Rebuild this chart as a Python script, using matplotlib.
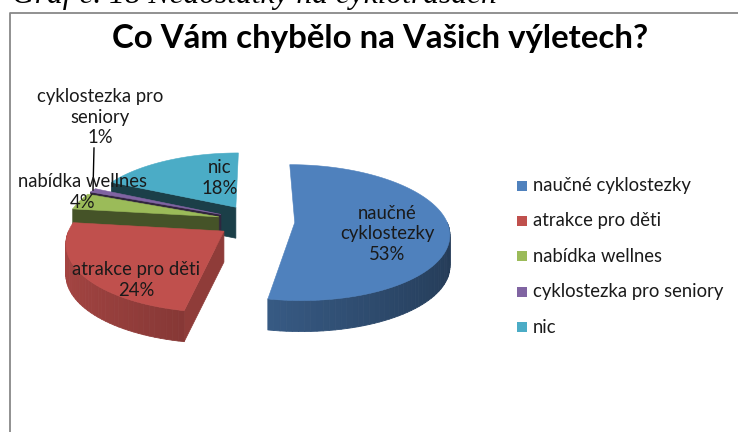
import numpy as np
import matplotlib
matplotlib.use("Agg")
import matplotlib.pyplot as plt
from matplotlib.patches import Polygon, Rectangle
from matplotlib.collections import PolyCollection
from matplotlib.lines import Line2D
from matplotlib import colors as mcolors

# ---------------- data ----------------
categories = ["naučné cyklostezky", "atrakce pro děti", "nabídka wellnes",
              "cyklostezka pro seniory", "nic"]
values = [53, 24, 4, 1, 18]
label_names = ["naučné\ncyklostezky", "atrakce pro děti", "nabídka wellnes",
               "cyklostezka pro\nseniory", "nic"]
title_text = "Co Vám chybělo na Vašich výletech?"
caption_text = "Graf č. 18 Nedostatky na cyklotrasách"

# ---------------- style / layout ----------------
colors = ["#4f81bd", "#c0504d", "#9bbb59", "#8064a2", "#4bacc6"]
FONT = "Lato"
W, H = 738, 432
CX, CY = 256, 221          # pie centre (px)
A, B = 152, 66             # ellipse radii (px)
P = 0.147                  # perspective
DEPTH = 31                 # side height (px)
EXPLODE = 0.255
label_pos = [(387, 234), (136, 280), (83, 192), (100, 117), (220, 178)]
legend_x, legend_y0, legend_dy = 517, 185.5, 35.4

fig = plt.figure(figsize=(W / 100, H / 100), dpi=100)
ax = fig.add_axes([0, 0, 1, 1])
ax.set_xlim(0, W)
ax.set_ylim(H, 0)
ax.axis("off")


def proj(u, v, bottom=False):
    den = 1 + P * v
    x = CX + A * u / den
    y = CY - B * v / den + (DEPTH if bottom else 0)
    return x, y


def shade(c, f):
    r, g, b = mcolors.to_rgb(c)
    return (min(r * f, 1), min(g * f, 1), min(b * f, 1))


total = float(sum(values))
slices = []
start = 90.0
for i, val in enumerate(values):
    sweep = 360.0 * val / total
    t1, t2 = start, start - sweep
    bis = np.radians((t1 + t2) / 2)
    slices.append((i, t1, t2, EXPLODE * np.cos(bis), EXPLODE * np.sin(bis)))
    start = t2

for (i, t1, t2, ou, ov) in sorted(slices, key=lambda s: -s[4]):
    col = colors[i]
    # radial faces
    for t, vis, nrm in ((t1, np.cos(np.radians(t1)) < -1e-6, t1 + 90),
                        (t2, np.cos(np.radians(t2)) > 1e-6, t2 - 90)):
        if vis:
            tr = np.radians(t)
            eu, ev = ou + np.cos(tr), ov + np.sin(tr)
            pts = [proj(ou, ov), proj(eu, ev), proj(eu, ev, True), proj(ou, ov, True)]
            f = 0.48 + 0.27 * np.cos(np.radians(nrm))
            ax.add_patch(Polygon(pts, closed=True, fc=shade(col, f), ec=shade(col, f), lw=0.5))
    # outer wall (front half only)
    for k in (-1, 0, 1):
        lo, hi = max(t2, -180 + 360 * k), min(t1, 360 * k)
        if hi - lo <= 0:
            continue
        th = np.linspace(lo, hi, max(int((hi - lo) / 2) + 2, 3))
        quads, fcs = [], []
        for a0, a1 in zip(th[:-1], th[1:]):
            r0, r1 = np.radians(a0), np.radians(a1)
            p0 = proj(ou + np.cos(r0), ov + np.sin(r0))
            p1 = proj(ou + np.cos(r1), ov + np.sin(r1))
            q0 = proj(ou + np.cos(r0), ov + np.sin(r0), True)
            q1 = proj(ou + np.cos(r1), ov + np.sin(r1), True)
            quads.append([p0, p1, q1, q0])
            am = np.radians((a0 + a1) / 2)
            fcs.append(shade(col, 0.66 + 0.2 * (-np.cos(am))))
        ax.add_collection(PolyCollection(quads, facecolors=fcs, edgecolors=fcs, linewidths=0.6))
    # top face
    th = np.radians(np.linspace(t2, t1, max(int((t1 - t2) / 1.5) + 2, 3)))
    pts = [proj(ou, ov)] + [proj(ou + np.cos(a), ov + np.sin(a)) for a in th]
    ax.add_patch(Polygon(pts, closed=True, fc=col, ec=col, lw=0.4))

# ---------------- texts ----------------
fig.canvas.draw()
rend = fig.canvas.get_renderer()


def fit(t, width):
    bb = t.get_window_extent(renderer=rend)
    t.set_fontsize(t.get_fontsize() * width / bb.width)
    return t.get_fontsize()


probe = ax.text(0, 0, categories[0], fontsize=14, family=FONT)
fs = fit(probe, 159)
probe.remove()

# legend
for i, name in enumerate(categories):
    yc = legend_y0 + legend_dy * i
    ax.add_patch(Rectangle((legend_x, yc - 5), 10, 10, fc=colors[i], ec="none"))
    ax.text(legend_x + 16, yc + 5.5, name, fontsize=fs, family=FONT,
            color="#1a1a1a", va="baseline", ha="left")

# data labels
for i, name in enumerate(label_names):
    pct = f"{round(100 * values[i] / total):.0f}%"
    x, y = label_pos[i]
    ax.text(x, y, name + "\n" + pct, fontsize=fs, family=FONT, color="#1a1a1a",
            ha="center", va="center", multialignment="center", linespacing=1.22)

# leader line for the smallest slice
ax.add_line(Line2D([94, 93], [148, 190], color="black", lw=1.0))

# title
tt = ax.text(380, 48, title_text, fontsize=20, family=FONT, weight="bold",
             color="black", ha="center", va="baseline")
fit(tt, 536)

# caption (cut at the top edge)
cap = ax.text(12, 3, caption_text, fontsize=20, family="Liberation Serif",
              style="italic", color="black", ha="left", va="baseline")
fit(cap, 485)

# frame
ax.add_line(Line2D([10, 10, W], [H, 13, 13], color="#888888", lw=1.3))

fig.savefig("out.png", dpi=100)
